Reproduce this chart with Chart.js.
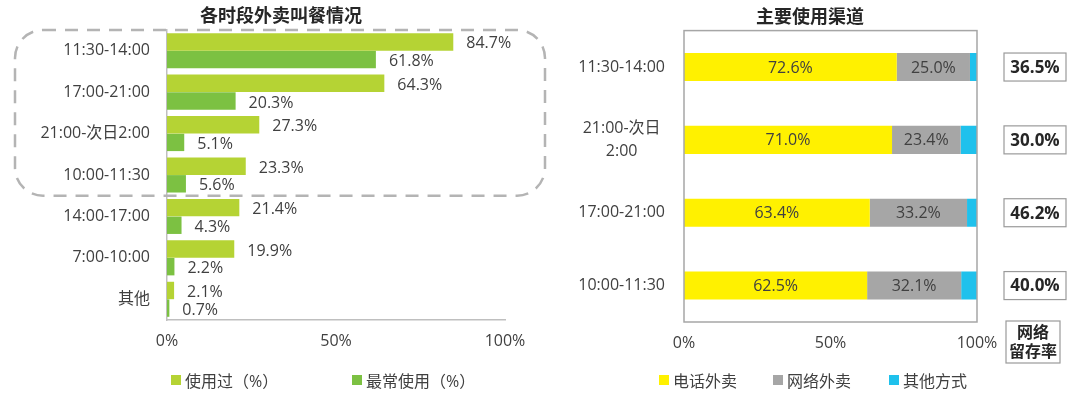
<!DOCTYPE html>
<html>
<head>
<meta charset="utf-8">
<script src="https://cdn.jsdelivr.net/npm/chart.js@4.4.1/dist/chart.umd.min.js"></script>
<style>
  body { margin: 0; background: #fff; width: 1069px; height: 394px; overflow: hidden; position: relative;
         font-family: 'Open Sans', 'Noto Sans CJK SC', sans-serif; }
  #leftChart { position: absolute; left: 0; top: 0; }
  #rightChart { position: absolute; left: 540px; top: 0; }
  .legend { position: absolute; left: 0; top: 370px; width: 1069px; height: 20px; }
  .legend-item { position: absolute; top: 0; height: 20px; display: flex; align-items: center;
                 white-space: nowrap; font-size: 16px; color: #404040; }
  .legend-box { width: 10px; height: 10px; margin-right: 4px; }
</style>
</head>
<body>
<canvas id="leftChart" width="560" height="394"></canvas>
<canvas id="rightChart" width="529" height="394"></canvas>
<div class="legend" id="leftLegend"></div>
<div class="legend" id="rightLegend"></div>

<script>
// 左图：各时段外卖叫餐情况
const timeSlots = ['11:30-14:00', '17:00-21:00', '21:00-次日2:00', '10:00-11:30', '14:00-17:00', '7:00-10:00', '其他'];
const usedValues = [84.7, 64.3, 27.3, 23.3, 21.4, 19.9, 2.1];
const mostUsedValues = [61.8, 20.3, 5.1, 5.6, 4.3, 2.2, 0.7];
const highlightCount = 4; // 虚线框圈住前四个时段

// 右图：主要使用渠道
const channelSlots = ['11:30-14:00', ['21:00-次日', '2:00'], '17:00-21:00', '10:00-11:30'];
const phoneValues = [72.6, 71.0, 63.4, 62.5];
const webValues = [25.0, 23.4, 33.2, 32.1];
const otherValues = [2.4, 5.6, 3.4, 5.4];
const retentionRates = [36.5, 30.0, 46.2, 40.0];

const percentTicks = [0, 50, 100];

const fontFamily = "'Open Sans', 'Noto Sans CJK SC', sans-serif";
const ink = '#404040';
Chart.defaults.font.family = fontFamily;
Chart.defaults.color = ink;

// 让 y 轴标签可以画到 padding 区域（标题要居中在整块区域上）
const unclipLabels = {
  id: 'unclipLabels',
  afterLayout(chart) {
    chart.scales.y.left = 0;
  }
};

// 数值标签（条形右侧）
const barValueLabels = {
  id: 'barValueLabels',
  afterDatasetsDraw(chart) {
    const ctx = chart.ctx;
    ctx.save();
    ctx.font = `16px ${fontFamily}`;
    ctx.fillStyle = ink;
    ctx.textAlign = 'left';
    ctx.textBaseline = 'middle';
    chart.data.datasets.forEach((ds, i) => {
      chart.getDatasetMeta(i).data.forEach((bar, j) => {
        ctx.fillText(ds.data[j].toFixed(1) + '%', bar.x + 13, bar.y + 2);
      });
    });
    ctx.restore();
  }
};

// 虚线圆角框
const highlightBox = {
  id: 'highlightBox',
  beforeDatasetsDraw(chart) {
    const { ctx, chartArea, scales: { y } } = chart;
    const half = (y.getPixelForValue(1) - y.getPixelForValue(0)) / 2;
    const top = chartArea.top;
    const bottom = y.getPixelForValue(highlightCount - 1) + half;
    ctx.save();
    ctx.strokeStyle = '#b4b4b4';
    ctx.lineWidth = 2.5;
    ctx.setLineDash([13, 9]);
    ctx.beginPath();
    ctx.roundRect(15, top, 530, bottom - top, 28);
    ctx.stroke();
    ctx.restore();
  }
};

// 右图：边框、条内标签、留存率小框
const channelDecor = {
  id: 'channelDecor',
  afterDatasetsDraw(chart) {
    const { ctx, chartArea: area, scales: { y } } = chart;
    ctx.save();
    ctx.strokeStyle = '#a6a6a6';
    ctx.lineWidth = 1.5;
    ctx.strokeRect(area.left, area.top, area.width, area.height);

    ctx.font = `16px ${fontFamily}`;
    ctx.fillStyle = ink;
    ctx.textAlign = 'center';
    ctx.textBaseline = 'middle';
    [0, 1].forEach(i => {
      const ds = chart.data.datasets[i];
      chart.getDatasetMeta(i).data.forEach((bar, j) => {
        ctx.fillText(ds.data[j].toFixed(1) + '%', (bar.x + bar.base) / 2, bar.y + 1);
      });
    });

    const boxLeft = area.right + 27;
    const boxWidth = 62;
    ctx.strokeStyle = '#9a9a9a';
    ctx.lineWidth = 1.2;
    retentionRates.forEach((r, j) => {
      const cy = y.getPixelForValue(j);
      ctx.strokeRect(boxLeft, cy - 14, boxWidth, 28);
      ctx.font = `bold 17px ${fontFamily}`;
      ctx.fillStyle = '#262626';
      ctx.fillText(r.toFixed(1) + '%', boxLeft + boxWidth / 2, cy + 1);
    });

    // 表头 “网络留存率”
    const headLeft = area.right + 29;
    ctx.strokeRect(headLeft, area.bottom - 1, 54, 42);
    ctx.font = `bold 16px ${fontFamily}`;
    ctx.fillText('网络', headLeft + 27, area.bottom + 11);
    ctx.fillText('留存率', headLeft + 27, area.bottom + 30);
    ctx.restore();
  }
};

function percentAxis(extra) {
  return Object.assign({
    min: 0,
    max: 100,
    afterBuildTicks: scale => { scale.ticks = percentTicks.map(v => ({ value: v })); },
    ticks: { callback: v => v + '%', color: ink, font: { size: 16 }, padding: 12 },
    grid: { display: false, drawTicks: false },
    afterFit: scale => { scale.height = 30; }
  }, extra);
}

const leftChart = new Chart(document.getElementById('leftChart'), {
  type: 'bar',
  data: {
    labels: timeSlots,
    datasets: [
      { label: '使用过（%）', data: usedValues, backgroundColor: '#b5d334' },
      { label: '最常使用（%）', data: mostUsedValues, backgroundColor: '#7cc142' }
    ]
  },
  options: {
    indexAxis: 'y',
    responsive: false,
    animation: false,
    layout: { padding: { left: 57, right: 55, top: 0, bottom: 44 } },
    datasets: { bar: { categoryPercentage: 0.85, barPercentage: 0.99 } },
    plugins: {
      legend: { display: false },
      tooltip: { enabled: false },
      title: {
        display: true,
        text: '各时段外卖叫餐情况',
        color: '#262626',
        font: { size: 18, weight: 'bold' },
        padding: { top: 6, bottom: 2.4 }
      }
    },
    scales: {
      x: percentAxis({ border: { color: '#bfbfbf', width: 1.5 } }),
      y: {
        ticks: { color: ink, font: { size: 16 }, padding: 17 },
        grid: { display: false, drawTicks: false },
        border: { color: '#bfbfbf', width: 1.5 },
        afterFit: scale => { scale.width = 110; }
      }
    }
  },
  plugins: [unclipLabels, highlightBox, barValueLabels]
});

const rightChart = new Chart(document.getElementById('rightChart'), {
  type: 'bar',
  data: {
    labels: channelSlots,
    datasets: [
      { label: '电话外卖', data: phoneValues, backgroundColor: '#fff100' },
      { label: '网络外卖', data: webValues, backgroundColor: '#a6a6a6' },
      { label: '其他方式', data: otherValues, backgroundColor: '#1fc1ec' }
    ]
  },
  options: {
    indexAxis: 'y',
    responsive: false,
    animation: false,
    layout: { padding: { left: 103, right: 92, top: 0, bottom: 42 } },
    datasets: { bar: { categoryPercentage: 0.385, barPercentage: 1 } },
    plugins: {
      legend: { display: false },
      tooltip: { enabled: false },
      title: {
        display: true,
        text: '主要使用渠道',
        color: '#262626',
        font: { size: 18, weight: 'bold' },
        padding: { top: 6, bottom: 2.4 }
      }
    },
    scales: {
      x: percentAxis({ stacked: true, border: { display: false } }),
      y: {
        stacked: true,
        ticks: { color: ink, font: { size: 16, lineHeight: 1.45 }, padding: 19, crossAlign: 'center' },
        grid: { display: false, drawTicks: false },
        border: { display: false },
        afterFit: scale => { scale.width = 41; }
      }
    }
  },
  plugins: [unclipLabels, channelDecor]
});

// HTML 图例
function buildLegend(chart, containerId, positions) {
  const box = document.getElementById(containerId);
  chart.data.datasets.forEach((ds, i) => {
    const item = document.createElement('div');
    item.className = 'legend-item';
    item.style.left = positions[i] + 'px';
    item.innerHTML = `<span class="legend-box" style="background:${ds.backgroundColor}"></span>${ds.label}`;
    box.appendChild(item);
  });
}
buildLegend(leftChart, 'leftLegend', [171, 352]);
buildLegend(rightChart, 'rightLegend', [659, 773, 889]);
</script>
</body>
</html>
